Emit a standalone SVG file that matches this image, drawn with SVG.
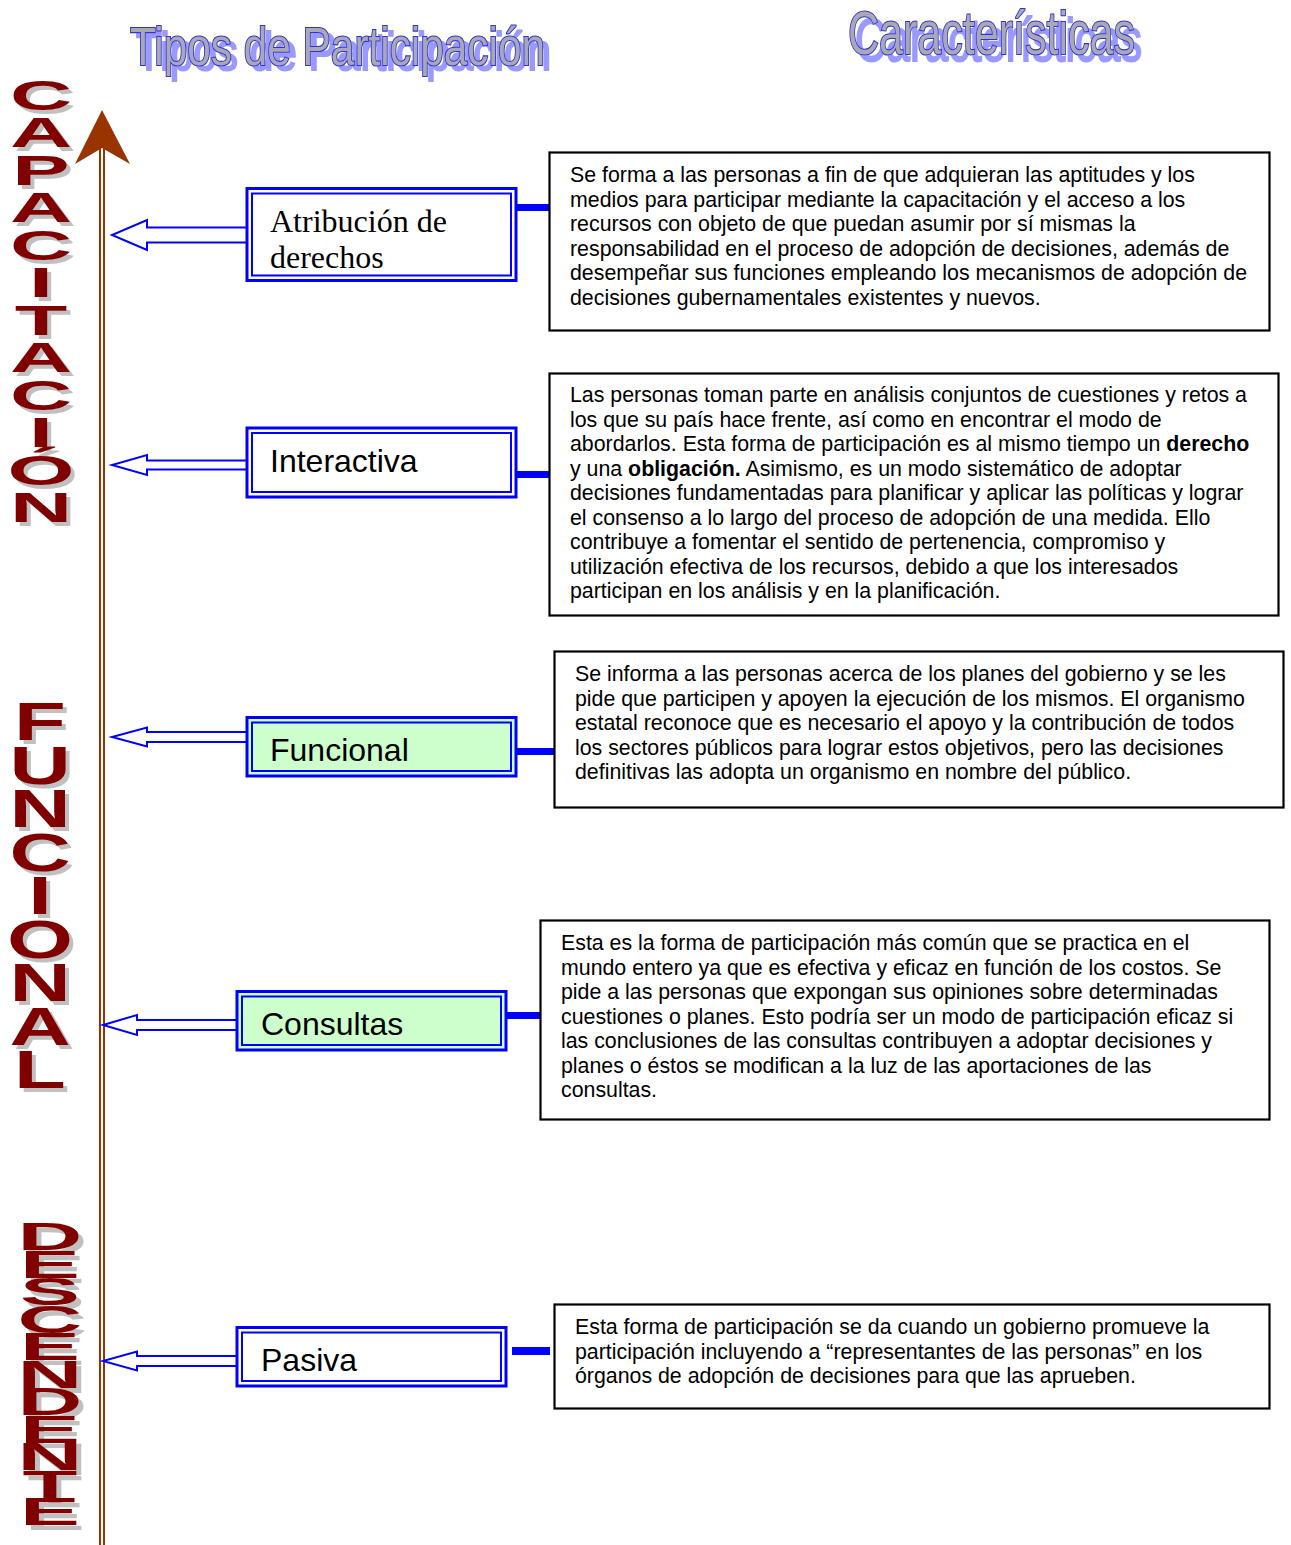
<svg xmlns="http://www.w3.org/2000/svg" xmlns:xlink="http://www.w3.org/1999/xlink" width="1291" height="1545" viewBox="0 0 1291 1545">
<style>
.title{font-family:"Liberation Sans",Arial,sans-serif;stroke:#3333cc;stroke-width:2.2;fill:#a8a8b8;paint-order:stroke}
.vl{font-family:"Liberation Sans",Arial,sans-serif;font-weight:bold;text-anchor:middle}
.outer{fill:#ffffff;stroke:#0000ff;stroke-width:3}
.outerg{fill:#ccffcc;stroke:#0000ff;stroke-width:3}
.inner{fill:none;stroke:#0000ff;stroke-width:2}
.lbl{font-family:"Liberation Sans",Arial,sans-serif;font-size:32px;fill:#000}
.lbls{font-family:"Liberation Serif","Times New Roman",serif;font-size:32px;fill:#000}
.desc{fill:#fff;stroke:#000;stroke-width:2.2}
.body{font-family:"Liberation Sans",Arial,sans-serif;font-size:21.33px;fill:#000}
.arr{fill:#fff;stroke:#0000ff;stroke-width:2;stroke-linejoin:miter}
.bar{fill:#0000ff}
.axis{stroke:#993300;stroke-width:2;fill:none}
</style>
<defs>
<filter id="tsh1" x="-5%" y="-30%" width="115%" height="170%">
<feFlood flood-color="#9999ff" result="c"/>
<feComposite in="c" in2="SourceAlpha" operator="in" result="s"/>
<feOffset in="s" dx="6" dy="5" result="o"/>
<feMerge><feMergeNode in="o"/><feMergeNode in="SourceGraphic"/></feMerge>
</filter>
<filter id="tsh2" x="-5%" y="-30%" width="115%" height="170%">
<feFlood flood-color="#9999ff" result="c"/>
<feComposite in="c" in2="SourceAlpha" operator="in" result="s"/>
<feOffset in="s" dx="7" dy="7" result="o"/>
<feMerge><feMergeNode in="o"/><feMergeNode in="SourceGraphic"/></feMerge>
</filter>
<g id="capL">
<text class="vl" font-size="43" transform="translate(41,109.5) scale(2,1)">C</text>
<text class="vl" font-size="43" transform="translate(41,147) scale(2,1)">A</text>
<text class="vl" font-size="43" transform="translate(41,184.5) scale(2,1)">P</text>
<text class="vl" font-size="43" transform="translate(41,222) scale(2,1)">A</text>
<text class="vl" font-size="43" transform="translate(41,259.5) scale(2,1)">C</text>
<text class="vl" font-size="43" transform="translate(41,297) scale(2,1)">I</text>
<text class="vl" font-size="43" transform="translate(41,334.5) scale(2,1)">T</text>
<text class="vl" font-size="43" transform="translate(41,372) scale(2,1)">A</text>
<text class="vl" font-size="43" transform="translate(41,409.5) scale(2,1)">C</text>
<text class="vl" font-size="43" transform="translate(41,447) scale(2,1)">I</text>
<text class="vl" font-size="43" transform="translate(41,484.5) scale(2,1)">Ó</text>
<text class="vl" font-size="43" transform="translate(41,522) scale(2,1)">N</text>
</g>
<g id="funL">
<text class="vl" font-size="53" transform="translate(40,740) scale(1.6,1)">F</text>
<text class="vl" font-size="53" transform="translate(40,783.5) scale(1.6,1)">U</text>
<text class="vl" font-size="53" transform="translate(40,827) scale(1.6,1)">N</text>
<text class="vl" font-size="53" transform="translate(40,870.5) scale(1.6,1)">C</text>
<text class="vl" font-size="53" transform="translate(40,914) scale(1.6,1)">I</text>
<text class="vl" font-size="53" transform="translate(40,957.5) scale(1.6,1)">O</text>
<text class="vl" font-size="53" transform="translate(40,1001) scale(1.6,1)">N</text>
<text class="vl" font-size="53" transform="translate(40,1044.5) scale(1.6,1)">A</text>
<text class="vl" font-size="53" transform="translate(40,1088) scale(1.6,1)">L</text>
</g>
<g id="desL">
<text class="vl" font-size="39" transform="translate(50,1250) scale(2.3,1)">D</text>
<text class="vl" font-size="39" transform="translate(50,1277.5) scale(2.3,1)">E</text>
<text class="vl" font-size="39" transform="translate(50,1305) scale(2.3,1)">S</text>
<text class="vl" font-size="39" transform="translate(50,1332.5) scale(2.3,1)">C</text>
<text class="vl" font-size="39" transform="translate(50,1360) scale(2.3,1)">E</text>
<text class="vl" font-size="39" transform="translate(50,1387.5) scale(2.3,1)">N</text>
<text class="vl" font-size="39" transform="translate(50,1415) scale(2.3,1)">D</text>
<text class="vl" font-size="39" transform="translate(50,1442.5) scale(2.3,1)">E</text>
<text class="vl" font-size="39" transform="translate(50,1470) scale(2.3,1)">N</text>
<text class="vl" font-size="39" transform="translate(50,1497.5) scale(2.3,1)">T</text>
<text class="vl" font-size="39" transform="translate(50,1525) scale(2.3,1)">E</text>
</g>
</defs>
<rect width="1291" height="1545" fill="#ffffff"/>

<g id="titles">
<text class="title" filter="url(#tsh1)" x="130" y="65" font-size="53" textLength="415" lengthAdjust="spacingAndGlyphs">Tipos de Participación</text>
<text class="title" filter="url(#tsh2)" x="848" y="54" font-size="61" textLength="287" lengthAdjust="spacingAndGlyphs">Características</text>
</g>

<g id="side-labels">
<use xlink:href="#capL" href="#capL" x="4" y="4" fill="#c0c0c0"/>
<use xlink:href="#capL" href="#capL" fill="#800000"/>
<use xlink:href="#funL" href="#funL" x="4" y="4" fill="#c0c0c0"/>
<use xlink:href="#funL" href="#funL" fill="#800000"/>
<use xlink:href="#desL" href="#desL" x="5" y="5" fill="#c0c0c0"/>
<use xlink:href="#desL" href="#desL" fill="#800000"/>
</g>

<g id="axis">
<line class="axis" x1="100" y1="146" x2="100" y2="1545"/>
<line class="axis" x1="104" y1="146" x2="104" y2="1545"/>
<path d="M102,110 L130,164 L102,148 L75,164 Z" fill="#993300"/>
</g>

<g id="connectors">
<path class="arr" d="M247,227.5 L147,227.5 L147,220 L112,235 L147,250 L147,242.5 L247,242.5"/>
<path class="arr" d="M247,460.5 L147,460.5 L147,455 L112,465 L147,475 L147,469.5 L247,469.5"/>
<path class="arr" d="M247,732 L147,732 L147,727.5 L112,737 L147,746.5 L147,742 L247,742"/>
<path class="arr" d="M237,1020 L137,1020 L137,1015 L103,1025 L137,1035 L137,1030 L237,1030"/>
<path class="arr" d="M237,1356 L137,1356 L137,1351.5 L103,1361 L137,1370.5 L137,1366 L237,1366"/>
<rect class="bar" x="516" y="204" width="38" height="7"/>
<rect class="bar" x="516" y="471" width="38" height="7"/>
<rect class="bar" x="516" y="748" width="39" height="7"/>
<rect class="bar" x="506" y="1012" width="35" height="7"/>
<rect class="bar" x="512" y="1347" width="38" height="8"/>
</g>

<g id="node-atribucion">
<rect class="outer" x="247" y="188.5" width="269" height="92"/>
<rect class="inner" x="252" y="193.5" width="259" height="82"/>
<text class="lbls" x="270" y="232">Atribución de</text>
<text class="lbls" x="270" y="268">derechos</text>
</g>
<g id="node-interactiva">
<rect class="outer" x="247" y="428" width="269" height="69"/>
<rect class="inner" x="252" y="433" width="259" height="59"/>
<text class="lbl" x="270" y="472">Interactiva</text>
</g>
<g id="node-funcional">
<rect class="outerg" x="247" y="717.5" width="269" height="58.5"/>
<rect class="inner" x="252" y="722.5" width="259" height="48.5"/>
<text class="lbl" x="270" y="761">Funcional</text>
</g>
<g id="node-consultas">
<rect class="outerg" x="237" y="991.5" width="269" height="58.5"/>
<rect class="inner" x="242" y="996.5" width="259" height="48.5"/>
<text class="lbl" x="261" y="1035">Consultas</text>
</g>
<g id="node-pasiva">
<rect class="outer" x="237" y="1327.5" width="269" height="58.5"/>
<rect class="inner" x="242" y="1332.5" width="259" height="48.5"/>
<text class="lbl" x="261" y="1371">Pasiva</text>
</g>

<g id="desc-atribucion">
<rect class="desc" x="549.5" y="152.5" width="720" height="178"/>
<text class="body" x="570" y="182">Se forma a las personas a fin de que adquieran las aptitudes y los</text>
<text class="body" x="570" y="206.5">medios para participar mediante la capacitación y el acceso a los</text>
<text class="body" x="570" y="231">recursos con objeto de que puedan asumir por sí mismas la</text>
<text class="body" x="570" y="255.5">responsabilidad en el proceso de adopción de decisiones, además de</text>
<text class="body" x="570" y="280">desempeñar sus funciones empleando los mecanismos de adopción de</text>
<text class="body" x="570" y="304.5">decisiones gubernamentales existentes y nuevos.</text>
</g>
<g id="desc-interactiva">
<rect class="desc" x="549.5" y="373.5" width="729" height="242"/>
<text class="body" x="570" y="402">Las personas toman parte en análisis conjuntos de cuestiones y retos a</text>
<text class="body" x="570" y="426.5">los que su país hace frente, así como en encontrar el modo de</text>
<text class="body" x="570" y="451">abordarlos. Esta forma de participación es al mismo tiempo un <tspan font-weight="bold">derecho</tspan></text>
<text class="body" x="570" y="475.5">y una <tspan font-weight="bold">obligación.</tspan> Asimismo, es un modo sistemático de adoptar</text>
<text class="body" x="570" y="500">decisiones fundamentadas para planificar y aplicar las políticas y lograr</text>
<text class="body" x="570" y="524.5">el consenso a lo largo del proceso de adopción de una medida. Ello</text>
<text class="body" x="570" y="549">contribuye a fomentar el sentido de pertenencia, compromiso y</text>
<text class="body" x="570" y="573.5">utilización efectiva de los recursos, debido a que los interesados</text>
<text class="body" x="570" y="598">participan en los análisis y en la planificación.</text>
</g>
<g id="desc-funcional">
<rect class="desc" x="554.5" y="651.5" width="729" height="156"/>
<text class="body" x="575" y="681">Se informa a las personas acerca de los planes del gobierno y se les</text>
<text class="body" x="575" y="705.5">pide que participen y apoyen la ejecución de los mismos. El organismo</text>
<text class="body" x="575" y="730">estatal reconoce que es necesario el apoyo y la contribución de todos</text>
<text class="body" x="575" y="754.5">los sectores públicos para lograr estos objetivos, pero las decisiones</text>
<text class="body" x="575" y="779">definitivas las adopta un organismo en nombre del público.</text>
</g>
<g id="desc-consultas">
<rect class="desc" x="540.5" y="920.5" width="729" height="199"/>
<text class="body" x="561" y="950">Esta es la forma de participación más común que se practica en el</text>
<text class="body" x="561" y="974.5">mundo entero ya que es efectiva y eficaz en función de los costos. Se</text>
<text class="body" x="561" y="999">pide a las personas que expongan sus opiniones sobre determinadas</text>
<text class="body" x="561" y="1023.5">cuestiones o planes. Esto podría ser un modo de participación eficaz si</text>
<text class="body" x="561" y="1048">las conclusiones de las consultas contribuyen a adoptar decisiones y</text>
<text class="body" x="561" y="1072.5">planes o éstos se modifican a la luz de las aportaciones de las</text>
<text class="body" x="561" y="1097">consultas.</text>
</g>
<g id="desc-pasiva">
<rect class="desc" x="554.5" y="1304.5" width="715" height="104"/>
<text class="body" x="575" y="1334">Esta forma de participación se da cuando un gobierno promueve la</text>
<text class="body" x="575" y="1358.5">participación incluyendo a “representantes de las personas” en los</text>
<text class="body" x="575" y="1383">órganos de adopción de decisiones para que las aprueben.</text>
</g>
</svg>
